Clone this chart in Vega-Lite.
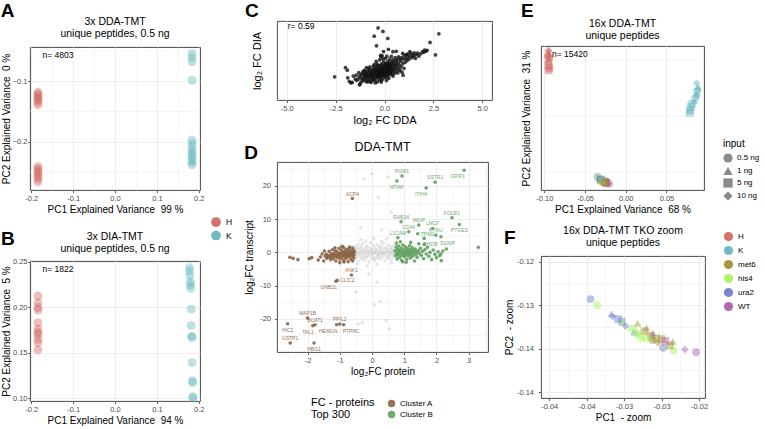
{
"$schema":"https://vega.github.io/schema/vega-lite/v6.json",
"background":"white",
"padding":{"left":0,"top":1,"right":0,"bottom":0},
"datasets":{
"agrid":[{"v":-0.25},{"v":-0.15},{"v":-0.05}],
"pa":[
{"g":"H","x":-0.184,"y":-0.118},{"g":"H","x":-0.184,"y":-0.121},{"g":"H","x":-0.184,"y":-0.125},{"g":"H","x":-0.184,"y":-0.128},{"g":"H","x":-0.184,"y":-0.131},{"g":"H","x":-0.184,"y":-0.135},{"g":"H","x":-0.184,"y":-0.139},
{"g":"H","x":-0.184,"y":-0.241},{"g":"H","x":-0.184,"y":-0.245},{"g":"H","x":-0.184,"y":-0.249},{"g":"H","x":-0.184,"y":-0.253},{"g":"H","x":-0.184,"y":-0.257},{"g":"H","x":-0.184,"y":-0.261},{"g":"H","x":-0.184,"y":-0.266},
{"g":"K","x":0.184,"y":-0.0544},{"g":"K","x":0.184,"y":-0.061},{"g":"K","x":0.184,"y":-0.068},{"g":"K","x":0.184,"y":-0.0984},{"g":"K","x":0.184,"y":-0.197},{"g":"K","x":0.184,"y":-0.203},{"g":"K","x":0.184,"y":-0.21},{"g":"K","x":0.184,"y":-0.215},{"g":"K","x":0.184,"y":-0.22},{"g":"K","x":0.184,"y":-0.224},{"g":"K","x":0.184,"y":-0.229},{"g":"K","x":0.184,"y":-0.234},{"g":"K","x":0.184,"y":-0.238}
],
"pb":[
{"g":"H","x":-0.184,"y":0.2126},{"g":"H","x":-0.184,"y":0.205},{"g":"H","x":-0.184,"y":0.1998},{"g":"H","x":-0.184,"y":0.197},{"g":"H","x":-0.184,"y":0.183},{"g":"H","x":-0.184,"y":0.176},{"g":"H","x":-0.184,"y":0.1725},{"g":"H","x":-0.184,"y":0.17},{"g":"H","x":-0.184,"y":0.165},{"g":"H","x":-0.184,"y":0.161},{"g":"H","x":-0.184,"y":0.153},
{"g":"K","x":0.178,"y":0.2438},{"g":"K","x":0.178,"y":0.240},{"g":"K","x":0.179,"y":0.235},{"g":"K","x":0.180,"y":0.228},{"g":"K","x":0.180,"y":0.225},{"g":"K","x":0.181,"y":0.221},{"g":"K","x":0.182,"y":0.198},{"g":"K","x":0.182,"y":0.180},{"g":"K","x":0.183,"y":0.168},{"g":"K","x":0.184,"y":0.167},{"g":"K","x":0.184,"y":0.139},{"g":"K","x":0.185,"y":0.119},{"g":"K","x":0.185,"y":0.117},{"g":"K","x":0.186,"y":0.1015},{"g":"K","x":0.186,"y":0.100}
],
"c":[
{"x":-1.32,"y":-0.78},{"x":-1.28,"y":-1.05},{"x":-1.25,"y":-1.52},{"x":-1.22,"y":-0.92},{"x":-1.18,"y":-1.15},{"x":-1.15,"y":-0.85},{"x":-1.12,"y":-1.3},{"x":-1.1,"y":-0.7},{"x":-1.08,"y":-1.0},{"x":-1.05,"y":-1.22},{"x":-1.03,"y":-0.88},{"x":-1.0,"y":-1.1},{"x":-0.98,"y":-0.75},{"x":-0.97,"y":-1.35},{"x":-1.2,"y":-1.4},{"x":-1.35,"y":-1.2},{"x":-0.95,"y":-0.95},{"x":-1.02,"y":-0.62},
{"x":-0.93,"y":-1.05},{"x":-0.9,"y":-0.8},{"x":-0.88,"y":-1.2},{"x":-0.86,"y":-0.68},{"x":-0.85,"y":-0.95},{"x":-0.83,"y":-1.28},{"x":-0.8,"y":-0.88},{"x":-0.78,"y":-1.1},{"x":-0.77,"y":-0.6},{"x":-0.75,"y":-1.0},{"x":-0.73,"y":-0.78},{"x":-0.72,"y":-1.35},{"x":-0.7,"y":-0.92},{"x":-0.68,"y":-1.15},{"x":-0.66,"y":-0.7},{"x":-0.65,"y":-0.85},{"x":-0.63,"y":-1.05},{"x":-0.62,"y":-0.55},{"x":-0.6,"y":-0.98},{"x":-0.61,"y":-1.25},{"x":-0.82,"y":-0.5},{"x":-0.92,"y":-0.45},{"x":-0.74,"y":-0.4},{"x":-0.69,"y":-1.42},{"x":-0.87,"y":-1.4},
{"x":-0.58,"y":-0.75},{"x":-0.57,"y":-1.12},{"x":-0.55,"y":-0.62},{"x":-0.54,"y":-0.9},{"x":-0.52,"y":-1.3},{"x":-0.5,"y":-0.8},{"x":-0.49,"y":-0.5},{"x":-0.48,"y":-1.02},{"x":-0.46,"y":-0.68},{"x":-0.45,"y":-1.18},{"x":-0.44,"y":-0.88},{"x":-0.42,"y":-0.42},{"x":-0.41,"y":-0.72},{"x":-0.4,"y":-1.05},{"x":-0.38,"y":-0.58},{"x":-0.37,"y":-0.95},{"x":-0.36,"y":-1.38},{"x":-0.35,"y":-0.78},{"x":-0.34,"y":-0.3},{"x":-0.33,"y":-1.1},{"x":-0.32,"y":-0.65},{"x":-0.31,"y":-0.88},{"x":-0.3,"y":-0.5},{"x":-0.56,"y":-0.35},{"x":-0.47,"y":-1.45},{"x":-0.39,"y":-0.2},{"x":-0.43,"y":-0.05},{"x":-0.53,"y":-0.25},
{"x":-0.29,"y":-1.0},{"x":-0.28,"y":-0.72},{"x":-0.27,"y":-0.4},{"x":-0.26,"y":-1.25},{"x":-0.25,"y":-0.85},{"x":-0.24,"y":-0.6},{"x":-0.23,"y":-0.95},{"x":-0.22,"y":-0.3},{"x":-0.21,"y":-1.12},{"x":-0.2,"y":-0.7},{"x":-0.19,"y":-0.48},{"x":-0.18,"y":-0.88},{"x":-0.17,"y":-1.4},{"x":-0.16,"y":-0.62},{"x":-0.15,"y":-0.2},{"x":-0.14,"y":-1.02},{"x":-0.13,"y":-0.78},{"x":-0.12,"y":-0.42},{"x":-0.11,"y":-0.92},{"x":-0.1,"y":-0.55},{"x":-0.09,"y":-1.18},{"x":-0.08,"y":-0.68},{"x":-0.07,"y":-0.32},{"x":-0.06,"y":-0.85},{"x":-0.05,"y":-0.08},{"x":-0.04,"y":-0.6},{"x":-0.03,"y":-1.0},{"x":-0.02,"y":-0.45},{"x":-0.01,"y":-0.75},{"x":-0.25,"y":0.05},{"x":-0.18,"y":0.25},{"x":-0.12,"y":0.32},{"x":-0.2,"y":0.35},{"x":-0.08,"y":0.12},{"x":-0.15,"y":-1.3},
{"x":0.0,"y":-0.9},{"x":0.01,"y":-0.55},{"x":0.02,"y":-0.25},{"x":0.03,"y":-0.7},{"x":0.04,"y":-1.1},{"x":0.05,"y":-0.4},{"x":0.06,"y":-0.82},{"x":0.07,"y":-0.15},{"x":0.08,"y":-0.6},{"x":0.09,"y":-0.95},{"x":0.1,"y":-0.35},{"x":0.11,"y":-0.72},{"x":0.12,"y":-0.5},{"x":0.13,"y":-1.05},{"x":0.14,"y":-0.22},{"x":0.15,"y":-0.62},{"x":0.16,"y":-0.85},{"x":0.17,"y":-0.42},{"x":0.18,"y":-0.05},{"x":0.19,"y":-0.7},{"x":0.2,"y":-0.3},{"x":0.21,"y":-0.95},{"x":0.22,"y":-0.55},{"x":0.24,"y":-0.18},{"x":0.25,"y":-0.78},{"x":0.26,"y":-0.45},{"x":0.27,"y":0.1},{"x":0.28,"y":-0.62},{"x":0.29,"y":-0.3},{"x":0.05,"y":0.15},{"x":0.12,"y":0.3},{"x":0.22,"y":-1.15},{"x":0.1,"y":-1.3},
{"x":0.31,"y":-0.85},{"x":0.32,"y":-0.5},{"x":0.33,"y":-0.15},{"x":0.35,"y":-0.68},{"x":0.36,"y":-0.35},{"x":0.38,"y":-0.92},{"x":0.39,"y":-0.05},{"x":0.4,"y":-0.55},{"x":0.42,"y":-0.25},{"x":0.43,"y":-0.75},{"x":0.45,"y":0.05},{"x":0.46,"y":-0.42},{"x":0.48,"y":-0.6},{"x":0.5,"y":-0.15},{"x":0.52,"y":-0.82},{"x":0.54,"y":-0.3},{"x":0.55,"y":0.2},{"x":0.57,"y":-0.5},{"x":0.58,"y":-0.05},{"x":0.6,"y":-0.68},{"x":0.35,"y":0.28},{"x":0.44,"y":-1.0},
{"x":0.62,"y":-0.25},{"x":0.64,"y":0.05},{"x":0.66,"y":-0.45},{"x":0.68,"y":-0.8},{"x":0.7,"y":-0.15},{"x":0.72,"y":0.25},{"x":0.74,"y":-0.55},{"x":0.76,"y":-0.3},{"x":0.78,"y":0.1},{"x":0.8,"y":-0.65},{"x":0.83,"y":-0.05},{"x":0.85,"y":-0.4},{"x":0.88,"y":0.2},{"x":0.9,"y":-0.75},{"x":0.93,"y":-0.2},{"x":0.96,"y":0.1},{"x":1.0,"y":-0.5},{"x":1.02,"y":0.35},{"x":1.05,"y":-0.1},{"x":1.08,"y":0.15},{"x":0.95,"y":-0.95},
{"x":1.12,"y":0.4},{"x":1.15,"y":0.0},{"x":1.18,"y":0.25},{"x":1.2,"y":0.45},{"x":1.25,"y":0.1},{"x":1.3,"y":0.3},{"x":1.35,"y":0.48},{"x":1.4,"y":0.2},{"x":1.45,"y":0.38},{"x":1.5,"y":0.3},{"x":1.52,"y":0.52},{"x":1.58,"y":0.15},{"x":1.62,"y":0.42},{"x":1.7,"y":0.5},{"x":1.75,"y":0.3},{"x":1.85,"y":0.45},{"x":1.95,"y":0.6},{"x":2.0,"y":0.55},{"x":2.05,"y":0.7},{"x":2.12,"y":0.62},{"x":2.18,"y":0.68},{"x":1.3,"y":0.6},
{"x":-2.55,"y":-1.05},{"x":-2.0,"y":-0.45},{"x":-1.9,"y":-0.62},{"x":-1.88,"y":-1.12},{"x":-1.8,"y":-1.35},{"x":-1.72,"y":-1.45},{"x":-1.65,"y":-1.42},{"x":-1.5,"y":-1.2},{"x":-1.42,"y":-1.28},{"x":-1.28,"y":-1.58},{"x":-1.6,"y":-1.0},{"x":-1.45,"y":-0.95},{"x":-0.33,"y":2.15},{"x":-0.08,"y":1.92},{"x":-0.53,"y":1.61},{"x":0.17,"y":1.46},{"x":-0.41,"y":0.98},{"x":2.33,"y":1.2},{"x":2.78,"y":1.76},{"x":2.61,"y":0.38},{"x":0.43,"y":0.59},{"x":0.93,"y":0.48},{"x":-0.05,"y":0.6},{"x":0.6,"y":0.62},{"x":0.2,"y":0.75}
],
"dg":[
{"x":-0.6,"y":0.5},{"x":-0.58,"y":-1.2},{"x":-0.56,"y":1.8},{"x":-0.55,"y":-0.3},{"x":-0.53,"y":-2.1},{"x":-0.52,"y":0.9},{"x":-0.5,"y":-0.8},{"x":-0.49,"y":1.4},{"x":-0.47,"y":-1.5},{"x":-0.46,"y":0.2},{"x":-0.44,"y":2.3},{"x":-0.43,"y":-0.5},{"x":-0.41,"y":-2.6},{"x":-0.4,"y":1.0},{"x":-0.38,"y":-1.0},{"x":-0.37,"y":0.0},{"x":-0.35,"y":1.7},{"x":-0.34,"y":-1.8},{"x":-0.32,"y":0.6},{"x":-0.31,"y":-0.4},{"x":-0.29,"y":2.6},{"x":-0.28,"y":-1.3},{"x":-0.26,"y":0.3},{"x":-0.25,"y":-2.3},{"x":-0.23,"y":1.2},{"x":-0.22,"y":-0.7},{"x":-0.2,"y":0.0},{"x":-0.19,"y":-1.6},{"x":-0.17,"y":2.0},{"x":-0.16,"y":0.8},{"x":-0.14,"y":-1.1},{"x":-0.13,"y":-0.2},{"x":-0.11,"y":1.5},{"x":-0.1,"y":-2.8},{"x":-0.08,"y":0.4},{"x":-0.07,"y":-0.9},{"x":-0.05,"y":2.9},{"x":-0.04,"y":-0.1},{"x":-0.02,"y":1.1},{"x":-0.01,"y":-1.9},{"x":0.01,"y":0.6},{"x":0.02,"y":-0.6},{"x":0.04,"y":2.2},{"x":0.05,"y":-1.4},{"x":0.07,"y":0.1},{"x":0.08,"y":-2.4},{"x":0.1,"y":1.3},{"x":0.11,"y":-0.3},{"x":0.13,"y":0.7},{"x":0.14,"y":-1.7},{"x":0.16,"y":2.4},{"x":0.17,"y":-0.8},{"x":0.19,"y":0.3},{"x":0.2,"y":-1.2},{"x":0.22,"y":1.6},{"x":0.23,"y":-0.4},{"x":0.25,"y":-2.0},{"x":0.26,"y":0.9},{"x":0.28,"y":-0.1},{"x":0.29,"y":1.9},{"x":0.31,"y":-1.5},{"x":0.32,"y":0.5},{"x":0.34,"y":-0.7},{"x":0.35,"y":2.7},{"x":0.37,"y":-0.2},{"x":0.38,"y":1.2},{"x":0.4,"y":-2.5},{"x":0.41,"y":0.0},{"x":0.43,"y":-1.0},{"x":0.44,"y":1.5},{"x":0.46,"y":0.4},{"x":0.47,"y":-1.8},{"x":0.49,"y":0.9},{"x":0.5,"y":-0.5},{"x":0.52,"y":2.1},{"x":0.53,"y":-1.3},{"x":0.55,"y":0.2},{"x":0.56,"y":-0.2},{"x":0.58,"y":1.3},{"x":0.59,"y":-2.2},{"x":0.61,"y":0.7},{"x":0.62,"y":-0.9},{"x":0.64,"y":1.9},{"x":0.65,"y":-0.3},{"x":0.67,"y":0.4},{"x":0.68,"y":-1.5},{"x":0.7,"y":1.1},{"x":0.71,"y":-0.6},{"x":0.73,"y":2.4},{"x":0.74,"y":0.1},{"x":0.76,"y":-1.1},{"x":0.78,"y":0.8},{"x":-0.45,"y":-3.5},{"x":-0.2,"y":3.4},{"x":0.15,"y":-3.6},{"x":0.3,"y":3.3},{"x":0.6,"y":-3.2},{"x":-0.35,"y":3.8},{"x":0.05,"y":4.2},{"x":-0.15,"y":-4.1},{"x":0.45,"y":4.0},
{"x":0.08,"y":-15.8},{"x":0.26,"y":-14.8},{"x":-0.3,"y":-21.1},{"x":-0.43,"y":-21.6},{"x":0.44,"y":-20.5},{"x":0.54,"y":-23.1},{"x":-0.26,"y":22.2},{"x":-0.02,"y":23.7},{"x":0.49,"y":22.7},{"x":-0.35,"y":7.5},{"x":0.15,"y":-9.0},{"x":0.6,"y":12.0},{"x":-0.1,"y":-6.5},{"x":0.3,"y":6.8},{"x":-0.5,"y":-12.0},{"x":0.2,"y":16.5}
],
"dc":[
{"c":"Cluster A","x":-1.45,"y":-1.2},{"c":"Cluster A","x":-1.42,"y":-0.6},{"c":"Cluster A","x":-1.4,"y":-1.8},{"c":"Cluster A","x":-1.38,"y":-0.9},{"c":"Cluster A","x":-1.35,"y":-1.5},{"c":"Cluster A","x":-1.33,"y":0.3},{"c":"Cluster A","x":-1.3,"y":-1.0},{"c":"Cluster A","x":-1.28,"y":-2.2},{"c":"Cluster A","x":-1.26,"y":-0.4},{"c":"Cluster A","x":-1.25,"y":-1.3},{"c":"Cluster A","x":-1.23,"y":0.8},{"c":"Cluster A","x":-1.2,"y":-0.7},{"c":"Cluster A","x":-1.19,"y":-1.9},{"c":"Cluster A","x":-1.17,"y":-0.2},{"c":"Cluster A","x":-1.15,"y":-1.1},{"c":"Cluster A","x":-1.13,"y":0.5},{"c":"Cluster A","x":-1.12,"y":-2.6},{"c":"Cluster A","x":-1.1,"y":-0.8},{"c":"Cluster A","x":-1.08,"y":-1.5},{"c":"Cluster A","x":-1.07,"y":0.1},{"c":"Cluster A","x":-1.05,"y":-0.5},{"c":"Cluster A","x":-1.03,"y":-1.2},{"c":"Cluster A","x":-1.02,"y":1.2},{"c":"Cluster A","x":-1.0,"y":-2.0},{"c":"Cluster A","x":-0.98,"y":-0.3},{"c":"Cluster A","x":-0.97,"y":-0.9},{"c":"Cluster A","x":-0.95,"y":0.6},{"c":"Cluster A","x":-0.94,"y":-1.6},{"c":"Cluster A","x":-0.92,"y":-0.1},{"c":"Cluster A","x":-0.9,"y":-1.0},{"c":"Cluster A","x":-0.89,"y":1.5},{"c":"Cluster A","x":-0.88,"y":-2.4},{"c":"Cluster A","x":-0.86,"y":-0.6},{"c":"Cluster A","x":-0.85,"y":0.3},{"c":"Cluster A","x":-0.84,"y":-1.3},{"c":"Cluster A","x":-0.82,"y":-0.2},{"c":"Cluster A","x":-0.81,"y":0.9},{"c":"Cluster A","x":-0.8,"y":-1.8},{"c":"Cluster A","x":-0.78,"y":-0.7},{"c":"Cluster A","x":-0.77,"y":0.2},{"c":"Cluster A","x":-0.76,"y":-1.1},{"c":"Cluster A","x":-0.74,"y":-2.8},{"c":"Cluster A","x":-0.73,"y":-0.4},{"c":"Cluster A","x":-0.72,"y":1.0},{"c":"Cluster A","x":-0.7,"y":-1.4},{"c":"Cluster A","x":-0.69,"y":-0.1},{"c":"Cluster A","x":-0.68,"y":0.5},{"c":"Cluster A","x":-0.66,"y":-0.9},{"c":"Cluster A","x":-0.65,"y":-2.1},{"c":"Cluster A","x":-0.64,"y":0.0},{"c":"Cluster A","x":-0.62,"y":-0.6},{"c":"Cluster A","x":-0.61,"y":1.3},{"c":"Cluster A","x":-0.6,"y":-1.2},{"c":"Cluster A","x":-0.59,"y":-0.3},{"c":"Cluster A","x":-0.58,"y":0.7},{"c":"Cluster A","x":-0.57,"y":-1.7},{"c":"Cluster A","x":-0.56,"y":-0.8},{"c":"Cluster A","x":-0.55,"y":0.2},{"c":"Cluster A","x":-1.6,"y":-1.4},{"c":"Cluster A","x":-1.67,"y":-2.3},{"c":"Cluster A","x":-1.87,"y":-1.6},{"c":"Cluster A","x":-1.95,"y":-1.9},{"c":"Cluster A","x":-2.55,"y":-1.5},{"c":"Cluster A","x":-2.45,"y":-1.8},{"c":"Cluster A","x":-2.3,"y":-2.2},{"c":"Cluster A","x":-1.55,"y":-0.5},{"c":"Cluster A","x":-1.5,"y":-2.6},{"c":"Cluster A","x":-1.48,"y":0.4},{"c":"Cluster A","x":-1.0,"y":-3.1},{"c":"Cluster A","x":-0.87,"y":-2.9},{"c":"Cluster A","x":-0.6,"y":-2.6},{"c":"Cluster A","x":-0.93,"y":1.8},{"c":"Cluster A","x":-0.7,"y":1.6},{"c":"Cluster A","x":-1.15,"y":1.4},
{"c":"Cluster B","x":0.72,"y":0.5},{"c":"Cluster B","x":0.74,"y":-1.0},{"c":"Cluster B","x":0.75,"y":1.6},{"c":"Cluster B","x":0.77,"y":-0.3},{"c":"Cluster B","x":0.78,"y":-2.0},{"c":"Cluster B","x":0.8,"y":0.9},{"c":"Cluster B","x":0.81,"y":-0.7},{"c":"Cluster B","x":0.83,"y":1.9},{"c":"Cluster B","x":0.84,"y":0.1},{"c":"Cluster B","x":0.86,"y":-1.5},{"c":"Cluster B","x":0.87,"y":0.6},{"c":"Cluster B","x":0.89,"y":-0.2},{"c":"Cluster B","x":0.9,"y":1.3},{"c":"Cluster B","x":0.92,"y":-2.4},{"c":"Cluster B","x":0.93,"y":-0.9},{"c":"Cluster B","x":0.95,"y":0.3},{"c":"Cluster B","x":0.96,"y":2.2},{"c":"Cluster B","x":0.98,"y":-0.5},{"c":"Cluster B","x":0.99,"y":1.0},{"c":"Cluster B","x":1.01,"y":-1.3},{"c":"Cluster B","x":1.02,"y":0.0},{"c":"Cluster B","x":1.04,"y":1.7},{"c":"Cluster B","x":1.05,"y":-0.8},{"c":"Cluster B","x":1.07,"y":0.6},{"c":"Cluster B","x":1.08,"y":-2.1},{"c":"Cluster B","x":1.1,"y":-0.1},{"c":"Cluster B","x":1.11,"y":1.2},{"c":"Cluster B","x":1.13,"y":-1.0},{"c":"Cluster B","x":1.14,"y":0.4},{"c":"Cluster B","x":1.16,"y":-0.4},{"c":"Cluster B","x":1.17,"y":2.0},{"c":"Cluster B","x":1.19,"y":-1.7},{"c":"Cluster B","x":1.2,"y":0.8},{"c":"Cluster B","x":1.22,"y":-0.6},{"c":"Cluster B","x":1.23,"y":0.2},{"c":"Cluster B","x":1.25,"y":1.4},{"c":"Cluster B","x":1.26,"y":-1.2},{"c":"Cluster B","x":1.28,"y":-0.2},{"c":"Cluster B","x":1.3,"y":0.6},{"c":"Cluster B","x":1.32,"y":-2.6},{"c":"Cluster B","x":1.34,"y":1.0},{"c":"Cluster B","x":1.36,"y":-0.7},{"c":"Cluster B","x":1.38,"y":0.1},{"c":"Cluster B","x":1.4,"y":-1.5},{"c":"Cluster B","x":1.43,"y":0.5},{"c":"Cluster B","x":1.46,"y":-0.3},{"c":"Cluster B","x":1.5,"y":1.2},{"c":"Cluster B","x":1.53,"y":-0.9},{"c":"Cluster B","x":1.56,"y":0.3},{"c":"Cluster B","x":1.6,"y":-1.9},{"c":"Cluster B","x":1.64,"y":0.8},{"c":"Cluster B","x":1.68,"y":-0.5},{"c":"Cluster B","x":1.72,"y":1.5},{"c":"Cluster B","x":1.76,"y":-1.2},{"c":"Cluster B","x":1.8,"y":0.0},{"c":"Cluster B","x":1.85,"y":-2.2},{"c":"Cluster B","x":1.9,"y":0.7},{"c":"Cluster B","x":1.95,"y":-0.6},{"c":"Cluster B","x":2.0,"y":-1.6},{"c":"Cluster B","x":2.05,"y":0.2},{"c":"Cluster B","x":2.1,"y":-1.0},{"c":"Cluster B","x":2.15,"y":-2.5},{"c":"Cluster B","x":2.2,"y":0.4},{"c":"Cluster B","x":2.31,"y":1.0},{"c":"Cluster B","x":2.14,"y":-0.5},{"c":"Cluster B","x":3.3,"y":1.5},{"c":"Cluster B","x":0.76,"y":2.8},{"c":"Cluster B","x":0.88,"y":3.2},{"c":"Cluster B","x":1.06,"y":-3.0},{"c":"Cluster B","x":1.2,"y":3.0},{"c":"Cluster B","x":0.95,"y":-2.8},{"c":"Cluster B","x":1.45,"y":2.6},{"c":"Cluster B","x":1.62,"y":2.4}
],
"dl":[
{"gene":"PGM1","c":"Cluster B","x":0.93,"y":23.0},{"gene":"MTAP","c":"Cluster B","x":0.77,"y":21.5},{"gene":"SSTR1","c":"Cluster B","x":1.96,"y":21.1},{"gene":"CRIP1","c":"Cluster B","x":2.86,"y":24.7},{"gene":"ITIH4","c":"Cluster B","x":1.68,"y":19.4},{"gene":"RAB34","c":"Cluster B","x":0.9,"y":9.2},{"gene":"IMUP","c":"Cluster B","x":1.45,"y":8.2},{"gene":"FOLR1","c":"Cluster B","x":2.48,"y":10.4},{"gene":"PTGES","c":"Cluster B","x":2.71,"y":8.4},{"gene":"LMO7","c":"Cluster B","x":1.88,"y":7.2},{"gene":"CD44","c":"Cluster B","x":1.14,"y":6.2},{"gene":"TPM2","c":"Cluster B","x":1.42,"y":5.6},{"gene":"KYNU","c":"Cluster B","x":1.98,"y":5.2},{"gene":"L1CAM","c":"Cluster B","x":0.8,"y":4.4},{"gene":"RHOB","c":"Cluster B","x":1.62,"y":4.2},{"gene":"S100P","c":"Cluster B","x":2.14,"y":4.7},
{"gene":"ACP4","c":"Cluster A","x":-0.61,"y":16.2},{"gene":"ANK1","c":"Cluster A","x":-0.64,"y":-6.8},{"gene":"CLIC2","c":"Cluster A","x":-1.08,"y":-8.4},{"gene":"GNB1L","c":"Cluster A","x":-1.12,"y":-8.7},{"gene":"MAP1B","c":"Cluster A","x":-2.0,"y":-19.8},{"gene":"HIC2","c":"Cluster A","x":-2.62,"y":-21.5},{"gene":"BCAT1","c":"Cluster A","x":-1.77,"y":-21.8},{"gene":"TAL1","c":"Cluster A","x":-1.84,"y":-22.1},{"gene":"HEMGN","c":"Cluster A","x":-1.1,"y":-21.8},{"gene":"PPIL2","c":"Cluster A","x":-1.0,"y":-21.6},{"gene":"PTPRC","c":"Cluster A","x":-0.88,"y":-21.8},{"gene":"GSTP1","c":"Cluster A","x":-2.54,"y":-27.3},{"gene":"HBG1","c":"Cluster A","x":-1.8,"y":-27.3}
],
"e":[
{"g":"H","i":"10 ng","x":-0.0950,"y":-0.0160},{"g":"H","i":"10 ng","x":-0.0944,"y":-0.0172},{"g":"H","i":"1 ng","x":-0.0952,"y":-0.0185},{"g":"H","i":"1 ng","x":-0.0940,"y":-0.0200},{"g":"H","i":"0.5 ng","x":-0.0962,"y":-0.0212},{"g":"H","i":"0.5 ng","x":-0.0935,"y":-0.0222},{"g":"H","i":"1 ng","x":-0.0948,"y":-0.0240},{"g":"H","i":"0.5 ng","x":-0.0945,"y":-0.0265},{"g":"H","i":"5 ng","x":-0.0950,"y":-0.0295},{"g":"H","i":"5 ng","x":-0.0938,"y":-0.0318},{"g":"H","i":"5 ng","x":-0.0946,"y":-0.0340},
{"g":"K","i":"10 ng","x":0.0870,"y":-0.0455},{"g":"K","i":"1 ng","x":0.0885,"y":-0.0480},{"g":"K","i":"10 ng","x":0.0890,"y":-0.0510},{"g":"K","i":"0.5 ng","x":0.0875,"y":-0.0525},{"g":"K","i":"1 ng","x":0.0860,"y":-0.0550},{"g":"K","i":"10 ng","x":0.0880,"y":-0.0565},{"g":"K","i":"0.5 ng","x":0.0850,"y":-0.0590},{"g":"K","i":"1 ng","x":0.0845,"y":-0.0610},{"g":"K","i":"5 ng","x":0.0815,"y":-0.0640},{"g":"K","i":"5 ng","x":0.0800,"y":-0.0665},{"g":"K","i":"5 ng","x":0.0790,"y":-0.0695},{"g":"K","i":"5 ng","x":0.0785,"y":-0.0720},
{"g":"ura2","i":"0.5 ng","x":-0.0345,"y":-0.1293},{"g":"his4","i":"0.5 ng","x":-0.0336,"y":-0.1300},{"g":"ura2","i":"1 ng","x":-0.0317,"y":-0.1310},{"g":"ura2","i":"10 ng","x":-0.0315,"y":-0.1313},{"g":"ura2","i":"5 ng","x":-0.0303,"y":-0.1319},{"g":"ura2","i":"10 ng","x":-0.0298,"y":-0.1324},{"g":"his4","i":"10 ng","x":-0.0304,"y":-0.1320},{"g":"ura2","i":"1 ng","x":-0.0287,"y":-0.1331},{"g":"met6","i":"1 ng","x":-0.0282,"y":-0.1321},{"g":"his4","i":"1 ng","x":-0.0284,"y":-0.1329},{"g":"his4","i":"0.5 ng","x":-0.0283,"y":-0.1333},{"g":"met6","i":"5 ng","x":-0.0273,"y":-0.1330},{"g":"met6","i":"5 ng","x":-0.0264,"y":-0.1335},{"g":"met6","i":"5 ng","x":-0.0257,"y":-0.1338},{"g":"met6","i":"5 ng","x":-0.0250,"y":-0.1339},{"g":"met6","i":"1 ng","x":-0.0270,"y":-0.1326},{"g":"his4","i":"5 ng","x":-0.0278,"y":-0.1335},{"g":"his4","i":"0.5 ng","x":-0.0269,"y":-0.1338},{"g":"WT","i":"1 ng","x":-0.0262,"y":-0.1332},{"g":"ura2","i":"0.5 ng","x":-0.0248,"y":-0.1349},{"g":"met6","i":"1 ng","x":-0.0235,"y":-0.1342},{"g":"his4","i":"0.5 ng","x":-0.0234,"y":-0.1352},{"g":"WT","i":"10 ng","x":-0.0219,"y":-0.1351},{"g":"WT","i":"0.5 ng","x":-0.0204,"y":-0.1354},{"g":"met6","i":"5 ng","x":-0.0239,"y":-0.1346},{"g":"his4","i":"5 ng","x":-0.0290,"y":-0.1327},{"g":"ura2","i":"5 ng","x":-0.0308,"y":-0.1316},{"g":"met6","i":"10 ng","x":-0.0255,"y":-0.1343},{"g":"WT","i":"5 ng","x":-0.0245,"y":-0.1341},{"g":"his4","i":"1 ng","x":-0.0276,"y":-0.1338},{"g":"met6","i":"0.5 ng","x":-0.0262,"y":-0.1340}
]
},
"concat":[
{"spacing":0,
 "resolve":{"scale":{"color":"independent"},"legend":{"color":"independent"}},
 "vconcat":[
 {"width":10,"height":1,"data":{"values":[]},"mark":{"type":"point","opacity":0},"encoding":{},"view":{"stroke":null}},
 {"spacing":0,
 "resolve":{"scale":{"color":"independent"},"legend":{"color":"independent"}},
 "vconcat":[
 {"title":{"text":"A","anchor":"start","fontSize":19,"fontWeight":"bold","offset":-5},
  "resolve":{"scale":{"color":"independent"},"legend":{"color":"independent"}},
  "vconcat":[{
   "width":170,"height":143,
   "title":{"text":["3x DDA-TMT","unique peptides, 0.5 ng"],"fontSize":10.5,"fontWeight":"normal","offset":8,"lineHeight":12},
   "encoding":{
      "x":{"field":"x","type":"quantitative","scale":{"domain":[-0.203,0.203],"nice":false,"zero":false},
        "axis":{"title":"PC1 Explained Variance\u00a0 99 %","values":[-0.2,-0.15,-0.1,-0.05,0,0.05,0.1,0.15,0.2],
          "labelExpr":"abs(datum.value*10-round(datum.value*10))<1e-6 ? replace(format(datum.value,'.1f'),'\u2212','-') : ''",
          "gridWidth":{"condition":{"test":"abs(datum.value*10-round(datum.value*10))<1e-6","value":0.9},"value":0.45},
          "tickOpacity":{"condition":{"test":"abs(datum.value*10-round(datum.value*10))<1e-6","value":1},"value":0}}},
      "y":{"field":"y","type":"quantitative","scale":{"domain":[-0.2796,-0.0435],"nice":false,"zero":false},
        "axis":{"title":"PC2 Explained Variance\u00a0 0 %","titlePadding":1,"labelPadding":0.5,"values":[-0.2,-0.1],"format":".1f","gridWidth":0.9}}},
   "layer":[
    {"data":{"name":"agrid"},"mark":{"type":"rule","color":"#EBEBEB","strokeWidth":0.45},
     "encoding":{"x":null,"y":{"field":"v","type":"quantitative"}}},
    {"data":{"name":"pa"},"mark":{"type":"circle","size":80,"opacity":0.4},
     "encoding":{
      "color":{"field":"g","type":"nominal","scale":{"domain":["H","K"],"range":["#D1625B","#5DB3B9"]},"legend":null}}},
    {"data":{"values":[{"t":"n= 4803","x":-0.173,"y":-0.057}]},"mark":{"type":"text","align":"left","baseline":"middle","fontSize":8.5},
     "encoding":{"text":{"field":"t"}}}
   ]}]},
 {"title":{"text":"B","anchor":"start","fontSize":19,"fontWeight":"bold","offset":-33},
  "resolve":{"scale":{"color":"independent"},"legend":{"color":"independent"}},
  "vconcat":[{
   "width":170,"height":140,
   "title":{"text":["3x DIA-TMT","unique peptides, 0.5 ng"],"fontSize":10.5,"fontWeight":"normal","offset":-38,"lineHeight":12},
   "layer":[
    {"data":{"name":"pb"},"mark":{"type":"circle","size":80,"opacity":0.4},
     "encoding":{
      "x":{"field":"x","type":"quantitative","scale":{"domain":[-0.203,0.203],"nice":false,"zero":false},
        "axis":{"title":"PC1 Explained Variance\u00a0 94 %","values":[-0.2,-0.15,-0.1,-0.05,0,0.05,0.1,0.15,0.2],
          "labelExpr":"abs(datum.value*10-round(datum.value*10))<1e-6 ? replace(format(datum.value,'.1f'),'\u2212','-') : ''",
          "gridWidth":{"condition":{"test":"abs(datum.value*10-round(datum.value*10))<1e-6","value":0.9},"value":0.45},
          "tickOpacity":{"condition":{"test":"abs(datum.value*10-round(datum.value*10))<1e-6","value":1},"value":0}}},
      "y":{"field":"y","type":"quantitative","scale":{"domain":[0.0967,0.2511],"nice":false,"zero":false},
        "axis":{"title":"PC2 Explained Variance\u00a0 5 %","titlePadding":1,"labelPadding":0.5,"values":[0.1,0.125,0.15,0.175,0.2,0.225,0.25],
          "labelExpr":"abs(datum.value*20-round(datum.value*20))<1e-6 ? format(datum.value,'.2f') : ''",
          "gridWidth":{"condition":{"test":"abs(datum.value*20-round(datum.value*20))<1e-6","value":0.9},"value":0.45},
          "tickOpacity":{"condition":{"test":"abs(datum.value*20-round(datum.value*20))<1e-6","value":1},"value":0}}},
      "color":{"field":"g","type":"nominal","scale":{"domain":["H","K"],"range":["#D1625B","#5DB3B9"]},
        "legend":{"orient":"none","legendX":180,"legendY":-45,"title":null,"symbolType":"circle","symbolSize":95,"symbolOpacity":0.9,"labelFontSize":8.5,"rowPadding":2.5}}}},
    {"data":{"values":[{"t":"n= 1822"}]},"mark":{"type":"text","align":"left","baseline":"middle","fontSize":8.5},
     "encoding":{"x":{"datum":-0.173},"y":{"datum":0.2428},"text":{"field":"t"}}}
   ]}]}
 ]}]},
{"spacing":0,
 "resolve":{"scale":{"color":"independent"},"legend":{"color":"independent"}},
 "vconcat":[
 {"width":10,"height":1,"data":{"values":[]},"mark":{"type":"point","opacity":0},"encoding":{},"view":{"stroke":null}},
 {"columns":1,"align":"none","spacing":14,
 "resolve":{"scale":{"color":"independent"},"legend":{"color":"independent"}},
 "concat":[
 {"title":{"text":"C","anchor":"start","fontSize":19,"fontWeight":"bold","offset":-3,"dx":-6},
  "vconcat":[{
   "width":215,"height":79,
   "layer":[
    {"data":{"name":"c"},"mark":{"type":"circle","size":14,"opacity":0.8,"color":"#111111"},
     "encoding":{
      "x":{"field":"x","type":"quantitative","scale":{"domain":[-5.5,5.5],"nice":false,"zero":false},
        "axis":{"title":"log\u2082 FC DDA","titleFontSize":11,"values":[-5,-3.75,-2.5,-1.25,0,1.25,2.5,3.75,5],
          "labelExpr":"abs(datum.value/2.5-round(datum.value/2.5))<1e-6 ? replace(format(datum.value,'.1f'),'\u2212','-') : ''",
          "gridWidth":{"condition":{"test":"abs(datum.value/2.5-round(datum.value/2.5))<1e-6","value":0.9},"value":0.45},
          "tickOpacity":{"condition":{"test":"abs(datum.value/2.5-round(datum.value/2.5))<1e-6","value":1},"value":0}}},
      "y":{"field":"y","type":"quantitative","scale":{"domain":[-2.57,2.6],"nice":false,"zero":false},
        "axis":{"title":"log\u2082 FC DIA","titleFontSize":11,"titlePadding":11,"labelPadding":1,"values":[-2.5,-2,-1.5,-1,-0.5,0,0.5,1,1.5,2,2.5],
          "labelExpr":"abs(datum.value-round(datum.value))<1e-6 ? replace(format(datum.value,'d'),'\u2212','-') : ''",
          "gridWidth":{"condition":{"test":"abs(datum.value-round(datum.value))<1e-6","value":0.9},"value":0.45},
          "tickOpacity":{"condition":{"test":"abs(datum.value-round(datum.value))<1e-6","value":1},"value":0}}}}},
    {"data":{"values":[{"t":"r= 0.59"}]},"mark":{"type":"text","align":"left","baseline":"middle","fontSize":8.5},
     "encoding":{"x":{"datum":-4.95},"y":{"datum":2.26},"text":{"field":"t"}}}
   ]}]},
 {"title":{"text":"D","anchor":"start","fontSize":19,"fontWeight":"bold","offset":-23},
  "resolve":{"scale":{"color":"independent"},"legend":{"color":"independent"}},
  "vconcat":[{
   "width":211,"height":190,
   "title":{"text":"DDA-TMT","fontSize":12.5,"fontWeight":"normal","offset":9},
   "encoding":{
     "x":{"field":"x","type":"quantitative","scale":{"domain":[-2.95,3.6],"nice":false,"zero":false},
        "axis":{"title":"log\u2082FC protein","values":[-2.5,-2,-1.5,-1,-0.5,0,0.5,1,1.5,2,2.5,3,3.5],
          "labelExpr":"abs(datum.value-round(datum.value))<1e-6 ? replace(format(datum.value,'d'),'\u2212','-') : ''",
          "gridWidth":{"condition":{"test":"abs(datum.value-round(datum.value))<1e-6","value":0.9},"value":0.45},
          "tickOpacity":{"condition":{"test":"abs(datum.value-round(datum.value))<1e-6","value":1},"value":0}}},
     "y":{"field":"y","type":"quantitative","scale":{"domain":[-30,27.2],"nice":false,"zero":false},
        "axis":{"title":"log\u2082FC transcript","titlePadding":5,"labelPadding":4,"values":[-25,-20,-15,-10,-5,0,5,10,15,20,25],
          "labelExpr":"abs(datum.value/10-round(datum.value/10))<1e-6 ? replace(format(datum.value,'d'),'\u2212','-') : ''",
          "gridWidth":{"condition":{"test":"abs(datum.value/10-round(datum.value/10))<1e-6","value":0.9},"value":0.45},
          "tickOpacity":{"condition":{"test":"abs(datum.value/10-round(datum.value/10))<1e-6","value":1},"value":0}}}},
   "layer":[
    {"data":{"name":"dg"},"mark":{"type":"circle","size":12,"opacity":0.3,"color":"#A8A8A8"}},
    {"data":{"name":"dc"},"mark":{"type":"circle","size":13,"opacity":0.9},
     "encoding":{"color":{"field":"c","type":"nominal","scale":{"domain":["Cluster A","Cluster B"],"range":["#8B6445","#5FA05F"]},
       "legend":{"orient":"none","legendX":34,"legendY":237,"title":["FC - proteins","Top 300"],"titleOrient":"left","titleFontSize":11,"titleLineHeight":12,"symbolType":"circle","symbolSize":55,"symbolOpacity":1,"labelFontSize":8,"rowPadding":2,"titlePadding":12}}}},
    {"data":{"name":"dl"},"mark":{"type":"circle","size":13,"opacity":0.9},
     "encoding":{"color":{"field":"c","type":"nominal"}}},
    {"data":{"name":"dl"},"transform":[{"filter":{"field":"gene","oneOf":["PGM1","SSTR1","RAB34","IMUP","FOLR1","LMO7","CD44","L1CAM","KYNU","ACP4","ANK1","MAP1B","BCAT1","PPIL2","GSTP1"]}}],
     "mark":{"type":"text","fontSize":5,"dy":-5,"opacity":0.9},
     "encoding":{"text":{"field":"gene"},"color":{"field":"c","type":"nominal"}}},
    {"data":{"name":"dl"},"transform":[{"filter":{"field":"gene","oneOf":["MTAP","PTGES","HIC2","HBG1"]}}],
     "mark":{"type":"text","fontSize":5,"dy":6,"opacity":0.9},
     "encoding":{"text":{"field":"gene"},"color":{"field":"c","type":"nominal"}}},
    {"data":{"name":"dl"},"transform":[{"filter":{"field":"gene","oneOf":["CRIP1","ITIH4","GNB1L","TAL1","HEMGN"]}}],
     "mark":{"type":"text","fontSize":5,"dy":6,"align":"right","dx":1,"opacity":0.9},
     "encoding":{"text":{"field":"gene"},"color":{"field":"c","type":"nominal"}}},
    {"data":{"name":"dl"},"transform":[{"filter":{"field":"gene","oneOf":["RHOB","S100P","PTPRC"]}}],
     "mark":{"type":"text","fontSize":5,"dy":6,"align":"left","dx":-1,"opacity":0.9},
     "encoding":{"text":{"field":"gene"},"color":{"field":"c","type":"nominal"}}},
    {"data":{"name":"dl"},"transform":[{"filter":{"field":"gene","oneOf":["TPM2","CLIC2"]}}],
     "mark":{"type":"text","fontSize":5,"align":"left","dx":3,"opacity":0.9},
     "encoding":{"text":{"field":"gene"},"color":{"field":"c","type":"nominal"}}},
    {"data":{"values":[{"t":"n= 1147"}]},"mark":{"type":"text","align":"left","baseline":"middle","fontSize":8.5,"color":"black"},
     "encoding":{"x":{"datum":-2.54},"y":{"datum":24.9},"text":{"field":"t"}}}
   ]}]}
 ]}]},
{"spacing":0,
 "resolve":{"scale":{"color":"independent","shape":"independent"},"legend":{"color":"independent","shape":"independent"}},
 "vconcat":[
 {"width":10,"height":1,"data":{"values":[]},"mark":{"type":"point","opacity":0},"encoding":{},"view":{"stroke":null}},
 {"spacing":10,
 "resolve":{"scale":{"color":"independent","shape":"independent"},"legend":{"color":"independent","shape":"independent"}},
 "vconcat":[
 {"title":{"text":"E","anchor":"start","fontSize":19,"fontWeight":"bold","offset":-3},
  "resolve":{"scale":{"color":"independent","shape":"independent"},"legend":{"color":"independent","shape":"independent"}},
  "vconcat":[{
   "width":163,"height":144,
   "title":{"text":["16x DDA-TMT","unique peptides"],"fontSize":10.5,"fontWeight":"normal","offset":5,"lineHeight":12},
   "layer":[
    {"data":{"name":"e"},"mark":{"type":"point","filled":true,"size":60,"opacity":0.45,"strokeWidth":0},
     "encoding":{
      "x":{"field":"x","type":"quantitative","scale":{"domain":[-0.104,0.0961],"nice":false,"zero":false},
        "axis":{"title":"PC1 Explained Variance\u00a0 68 %","values":[-0.1,-0.075,-0.05,-0.025,0,0.025,0.05,0.075],
          "labelExpr":"abs(datum.value*20-round(datum.value*20))<1e-6 ? replace(format(datum.value,'.2f'),'\u2212','-') : ''",
          "gridWidth":{"condition":{"test":"abs(datum.value*20-round(datum.value*20))<1e-6","value":0.9},"value":0.45},
          "tickOpacity":{"condition":{"test":"abs(datum.value*20-round(datum.value*20))<1e-6","value":1},"value":0}}},
      "y":{"field":"y","type":"quantitative","scale":{"domain":[-0.141,-0.0122],"nice":false,"zero":false},
        "axis":{"title":"PC2 Explained Variance\u00a0 31 %","titlePadding":2,"labelPadding":5,"values":[-0.125,-0.1,-0.075,-0.05,-0.025],
          "labelExpr":"abs(datum.value*20-round(datum.value*20))<1e-6 ? replace(format(datum.value,'.2f'),'\u2212','-') : ''",
          "gridWidth":{"condition":{"test":"abs(datum.value*20-round(datum.value*20))<1e-6","value":0.9},"value":0.45},
          "tickOpacity":{"condition":{"test":"abs(datum.value*20-round(datum.value*20))<1e-6","value":1},"value":0}}},
      "color":{"field":"g","type":"nominal","scale":{"domain":["H","K","met6","his4","ura2","WT"],"range":["#D1625B","#5DB3B9","#9F8B2B","#A5F25E","#6A7CC8","#A65AA5"]},"legend":null},
      "shape":{"field":"i","type":"nominal","scale":{"domain":["0.5 ng","1 ng","5 ng","10 ng"],"range":["circle","triangle-up","square","diamond"]},
        "legend":{"orient":"none","legendX":182,"legendY":93,"title":"input","titleFontSize":10,"titlePadding":4,"symbolSize":85,"symbolFillColor":"#8A8A8A","symbolStrokeColor":"#8A8A8A","symbolStrokeWidth":0,"symbolOpacity":1,"labelFontSize":8,"rowPadding":3}}}},
    {"data":{"values":[{"t":"n= 15420"}]},"mark":{"type":"text","align":"left","baseline":"middle","fontSize":8.5},
     "encoding":{"x":{"datum":-0.0906},"y":{"datum":-0.0196},"text":{"field":"t"}}}
   ]}]},
 {"title":{"text":"F","anchor":"start","fontSize":19,"fontWeight":"bold","offset":-23},
  "resolve":{"scale":{"color":"independent","shape":"independent"},"legend":{"color":"independent","shape":"independent"}},
  "vconcat":[{
   "width":164,"height":142,
   "title":{"text":["16x DDA-TMT TKO zoom","unique peptides"],"fontSize":10.5,"fontWeight":"normal","offset":-17,"lineHeight":12},
   "data":{"name":"e"},
   "transform":[{"filter":"datum.g != 'H' && datum.g != 'K'"}],
   "mark":{"type":"point","filled":true,"size":60,"opacity":0.45,"strokeWidth":0},
   "encoding":{
      "x":{"field":"x","type":"quantitative","scale":{"domain":[-0.0411,-0.0192],"nice":false,"zero":false},
        "axis":{"title":"PC1 \u00a0- zoom","values":[-0.04,-0.0375,-0.035,-0.0325,-0.03,-0.0275,-0.025,-0.0225,-0.02],
          "labelExpr":"abs(datum.value*200-round(datum.value*200))<1e-6 ? (datum.value < -0.0325 ? '-0.04' : datum.value < -0.0225 ? '-0.03' : '-0.02') : ''",
          "gridWidth":{"condition":{"test":"abs(datum.value*200-round(datum.value*200))<1e-6","value":0.9},"value":0.45},
          "tickOpacity":{"condition":{"test":"abs(datum.value*200-round(datum.value*200))<1e-6","value":1},"value":0}}},
      "y":{"field":"y","type":"quantitative","scale":{"domain":[-0.14066,-0.12435],"nice":false,"zero":false},
        "axis":{"title":"PC2 \u00a0- zoom","titlePadding":2,"labelPadding":5,"values":[-0.125,-0.1275,-0.13,-0.1325,-0.135,-0.1375,-0.14],
          "labelExpr":"abs(datum.value*200-round(datum.value*200))<1e-6 ? (datum.value > -0.1275 ? '-0.12' : datum.value > -0.1325 ? '-0.13' : '-0.14') : ''",
          "gridWidth":{"condition":{"test":"abs(datum.value*200-round(datum.value*200))<1e-6","value":0.9},"value":0.45},
          "tickOpacity":{"condition":{"test":"abs(datum.value*200-round(datum.value*200))<1e-6","value":1},"value":0}}},
      "color":{"field":"g","type":"nominal","scale":{"domain":["H","K","met6","his4","ura2","WT"],"range":["#D1625B","#5DB3B9","#9F8B2B","#A5F25E","#6A7CC8","#A65AA5"]},
        "legend":{"orient":"none","legendX":182,"legendY":-25,"title":null,"symbolType":"circle","symbolSize":85,"symbolOpacity":0.9,"labelFontSize":8,"rowPadding":3}},
      "shape":{"field":"i","type":"nominal","scale":{"domain":["0.5 ng","1 ng","5 ng","10 ng"],"range":["circle","triangle-up","square","diamond"]},"legend":null}}
   }]}
 ]}]}
],
"columns":3,
"align":"none",
"spacing":10,
"resolve":{"scale":{"color":"independent","shape":"independent"},"legend":{"color":"independent","shape":"independent"}},
"config":{
 "font":"Liberation Sans",
 "view":{"stroke":"#333333","strokeWidth":0.9},
 "axis":{"domain":false,"grid":true,"gridColor":"#EBEBEB","tickColor":"#333333","tickSize":2.5,"tickWidth":0.8,"labelColor":"#4D4D4D","labelFontSize":7.5,"labelPadding":1.5,"titleFontSize":10,"titleFontWeight":"normal","titleColor":"#000000","titlePadding":3,"labelOverlap":false,"labelFlush":false,"labelBound":false},
 "legend":{"labelColor":"#000000","titleFontWeight":"normal","titleColor":"#000000"},
 "title":{"color":"#000000"}
}
}
